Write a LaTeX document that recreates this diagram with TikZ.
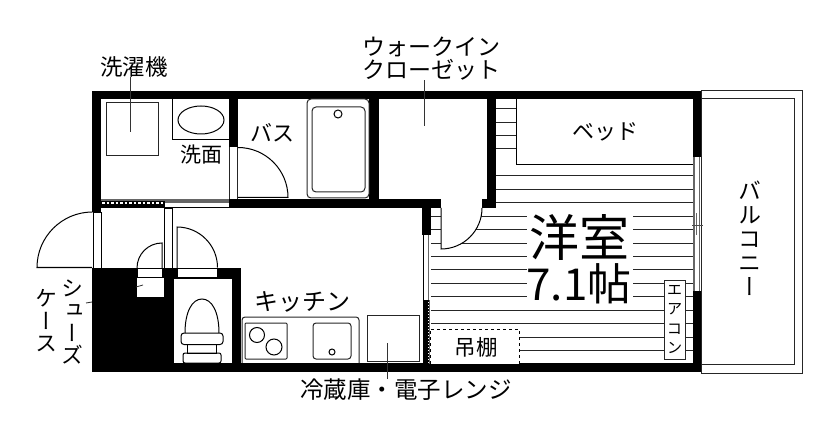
\documentclass[tikz,border=0pt]{standalone}
\usepackage{fontspec}
\setmainfont{Noto Sans CJK JP}
\newfontfamily\tatefont[RawFeature=+vert]{Noto Sans CJK JP}
\newcommand{\jp}[1]{\fontsize{#1}{#1}\selectfont}
\newcommand{\tate}[2]{\tatefont\fontsize{#1}{#2}\selectfont}

\begin{document}
\begin{tikzpicture}[
        x=1pt, y=-1pt,
        every node/.style={inner sep=0pt, outer sep=0pt},
        plan/.style={draw=black, line width=1pt},
        fine/.style={draw=black!85, line width=1pt},
        hatch/.style={draw=black!85, line width=0.8pt},
        wall/.style={fill=black},
        opening/.style={fill=white, draw=black, line width=0.8pt},
        lead/.style={draw=black!80, line width=0.9pt},
        tatelabel/.style={align=center}
    ]
        \useasboundingbox (0,0) rectangle (840,438);

        % room floor lines
        \foreach \k in {0,...,3} {
            \draw[hatch] (496,108.5+13.45*\k) -- (516,108.5+13.45*\k);
        }
        \foreach \k in {5,...,7} {
            \draw[hatch] (496,108.5+13.45*\k) -- (693,108.5+13.45*\k);
        }
        \foreach \k in {8,...,16} {
            \draw[hatch] (431,108.5+13.45*\k) -- (693,108.5+13.45*\k);
        }
        \foreach \k in {17,18} {
            \draw[hatch] (519,108.5+13.45*\k) -- (693,108.5+13.45*\k);
        }
        \fill[white] (527,209) rectangle (633,309.5);

        % balcony
        \draw[fine] (701,91) rectangle (802,373);
        \draw[fine] (701,99) -- (794,99) -- (794,364) -- (701,364);

        % walls
        \fill[wall] (92,91) rectangle (701,99.5);
        \fill[wall] (92,363) rectangle (701,372);
        \fill[wall] (92,91) rectangle (101,212);
        \fill[wall] (693,91) rectangle (701,157);
        \fill[wall] (693,291) rectangle (701,372);
        \fill[wall] (229,91) rectangle (238,147);
        \fill[wall] (369,91) rectangle (379,208);
        \fill[wall] (487,91) rectangle (496,208);
        \fill[wall] (229,199) rectangle (496,208);
        \fill[wall] (422,208) rectangle (431,235);
        \fill[wall] (423,300) rectangle (427.5,364);
        \fill[wall] (92,268) rectangle (241,372);

        % strip under the washroom
        \fill[wall] (101,201) rectangle (165,208);
        \draw[white, line width=1.2pt, dash pattern=on 2.5pt off 2pt] (102,203) -- (165,203);
        \draw[black!60, line width=1.4pt] (101,200) -- (165,200);
        \fill[black!60] (165,199) rectangle (229,203);
        \draw[plan] (165,207.5) -- (229,207.5);

        % openings
        \draw[fine] (229.5,147) -- (229.5,199);
        \draw[fine] (237.5,147) -- (237.5,199);
        \fill[white] (441,199) rectangle (482,208);
        \draw[opening] (93,212) rectangle (101,268);
        \draw[opening] (164,208) rectangle (172,268);
        \draw[opening] (137,268.5) rectangle (162,277.5);
        \draw[opening] (177,268.5) rectangle (217,277.5);
        \draw[opening] (136.5,277.5) rectangle (164,297);
        \fill[white] (173,278) rectangle (232,363);
        \draw[plan] (173,278) rectangle (232,363);

        % room side of the hall wall
        \draw[plan] (423,235) -- (423,300);
        \draw[black!60, line width=1.6pt] (428.5,235) -- (428.5,300);
        \draw[black!60, line width=0.9pt] (429.5,300) -- (429.5,364);
        \draw[black, line width=1pt, dash pattern=on 1.5pt off 1.5pt] (428,300) -- (428,364);

        % window
        \draw[black!60, line width=1.4pt] (694,157) -- (694,291);
        \draw[black!60, line width=0.9pt] (699,157) -- (699,291);
        \draw[black!60, line width=1.2pt] (696.5,213) -- (696.5,235);
        \draw[black!70, line width=0.8pt] (692,225) -- (703,225);

        % doors
        \draw[plan] (92,267.5) -- (37,267.5) arc[start angle=180, end angle=270, radius=55.5];
        \draw[plan] (162,268) -- (162,243) arc[start angle=270, end angle=180, radius=25];
        \draw[plan] (177,268) -- (177,227) arc[start angle=270, end angle=360, radius=40.5];
        \draw[plan] (238,197.5) -- (288,197.5) arc[start angle=0, end angle=-90, radius=50];
        \draw[plan, fill=white] (441,208) -- (441,249) arc[start angle=90, end angle=0, radius=41];
        \draw[black!80, line width=0.8pt] (136,287) -- (143,285);

        % washroom
        \draw[fine] (106,103) rectangle (158,156);
        \draw[plan] (172,99) -- (172,140) -- (229,140);
        \draw[plan] (201,120) ellipse (23 and 14);

        % bath
        \draw[fine, rounded corners=4pt] (307,99) rectangle (369,198);
        \draw[fine, rounded corners=4pt] (312,107) rectangle (365,192);
        \draw[plan] (338,114) circle (4);

        % bed, shelf and air conditioner
        \draw[plan, fill=white] (516,99) -- (516,165) -- (693,165);
        \draw[black, line width=0.8pt, dashed, fill=white] (430,364) -- (430,329) -- (519,329) -- (519,364);
        \draw[fine, fill=white] (664,280) rectangle (685,359);

        % toilet
        \draw[plan] (185,333) .. controls (185,312) and (192,299) .. (202,299)
            .. controls (212,299) and (219,312) .. (219,333);
        \draw[plan, rounded corners=3pt] (181,333) rectangle (223,344.5);
        \draw[plan] (187,344.5) rectangle (216,353);
        \draw[plan, rounded corners=2pt] (183,353) rectangle (221,363);

        % kitchen
        \draw[fine, rounded corners=3pt] (242,363) -- (242,317) -- (359,317) -- (359,363);
        \draw[fine, rounded corners=1pt] (245,323) rectangle (287,359);
        \draw[plan] (257,335) circle (7.5);
        \draw[plan] (274,347) circle (8);
        \draw[fine, rounded corners=3pt] (313,323) rectangle (351,359);
        \draw[plan] (332,352) circle (3);
        \draw[fine] (367,315) rectangle (419,361);

        % labels
        \node[font=\jp{22.5}] (lbwasher) at (134,67) {洗濯機};
        \node[font=\jp{21}] (lbsink) at (201,155) {洗面};
        \node[font=\jp{22}] (lbbath) at (272,133) {バス};
        \node[font=\jp{23}, align=center] (lbcloset) at (431,58.5) {ウォークイン\\[0.5pt]クローゼット};
        \node[font=\jp{22}] (lbbed) at (605,132) {ベッド};
        \node[font=\jp{50}] (lbroom) at (579,237) {洋室};
        \node[font=\jp{44}] (lbsize) at (579,284) {7.1帖};
        \node[font=\jp{24}] (lbkitchen) at (302,302) {キッチン};
        \node[font=\jp{21.5}] (lbshelf) at (476,347) {吊棚};
        \node[font=\jp{23.5}] (lbfridge) at (406,390) {冷蔵庫・電子レンジ};
        \node[tatelabel, font=\tate{23}{24}] (lbbalcony) at (750,238) {バ\\ル\\コ\\ニ\\ー};
        \node[tatelabel, font=\tate{15.5}{19.5}] (lbaircon) at (674.5,319.5) {エ\\ア\\コ\\ン};
        \node[tatelabel, font=\tate{22}{22.5}] (lbshoe) at (72,322) {シ\\ュ\\ー\\ズ};
        \node[tatelabel, font=\tate{22}{22.5}] (lbcase) at (46,321) {ケ\\ー\\ス};

        % leaders
        \coordinate (washerend) at (130,132);
        \coordinate (closetend) at (424,126);
        \coordinate (fridgeend) at (387,343);
        \coordinate (shoeend) at (92,302);
        \coordinate (shoestart) at (86,303);
        \draw[lead] (lbwasher.south -| washerend) -- (washerend);
        \draw[lead] (lbcloset.south -| closetend) -- (closetend);
        \draw[lead] (lbfridge.north -| fridgeend) -- (fridgeend);
        \draw[lead] (shoestart) -- (shoeend);
    \end{tikzpicture}
\end{document}
